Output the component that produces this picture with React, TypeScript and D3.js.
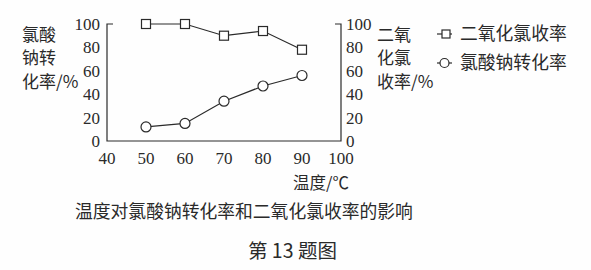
import React from "react";
import * as d3 from "d3";

const temps = [50, 60, 70, 80, 90];
const clo2Yield = [100, 100, 90, 94, 78];
const chlorateConv = [12, 15, 34, 47, 56];
const xTicks = [40, 50, 60, 70, 80, 90, 100];
const yTicks = [0, 20, 40, 60, 80, 100];
const leftTitle = ["氯酸", "钠转", "化率/%"];
const rightTitle = ["二氧", "化氯", "收率/%"];
const seriesNames = ["二氧化氯收率", "氯酸钠转化率"];
const xTitle = "温度/℃";
const caption = "温度对氯酸钠转化率和二氧化氯收率的影响";
const figLabel = "第 13 题图";

const W = 591, H = 270;
const ink = "#2a2a2a";
const numFont = "'Liberation Serif', 'Times New Roman', serif";
const cjkFont = "'Noto Sans CJK SC', 'Liberation Serif', serif";

export default function App() {
  const x = d3.scaleLinear().domain([40, 100]).range([107, 341]);
  const y = d3.scaleLinear().domain([0, 100]).range([141, 24]);
  const line = d3.line<[number, number]>().x(d => x(d[0])).y(d => y(d[1]));
  const sqData: [number, number][] = temps.map((t, i) => [t, clo2Yield[i]]);
  const ciData: [number, number][] = temps.map((t, i) => [t, chlorateConv[i]]);
  const s = 9;
  return (
    <svg width={W} height={H} style={{ position: "absolute", left: 0, top: 0, background: "#fff" }}>
      <rect x={0} y={0} width={W} height={H} fill="#fefefe" />
      <path d={`M${x(40) + 6},${y(100)} H${x(40)} V${y(0)} H${x(100)} V${y(100)} H${x(100) - 6}`} fill="none" stroke={ink} strokeWidth={1.2} />
      {yTicks.map(t => (
        <text key={"l" + t} x={100} y={y(t)} dy="0.35em" textAnchor="end" fontFamily={numFont} fontSize={17} fill={ink}>{t}</text>
      ))}
      {yTicks.map(t => (
        <text key={"r" + t} x={346} y={y(t)} dy="0.35em" textAnchor="start" fontFamily={numFont} fontSize={17} fill={ink}>{t}</text>
      ))}
      {xTicks.map(t => (
        <text key={"x" + t} x={x(t)} y={158} dy="0.35em" textAnchor="middle" fontFamily={numFont} fontSize={17} fill={ink}>{t}</text>
      ))}
      {leftTitle.map((l, i) => (
        <text key={"lt" + i} x={22} y={35 + i * 23.5} dy="0.35em" fontFamily={cjkFont} fontSize={17} fill={ink}>{l}</text>
      ))}
      {rightTitle.map((l, i) => (
        <text key={"rt" + i} x={377} y={35 + i * 23.5} dy="0.35em" fontFamily={cjkFont} fontSize={17} fill={ink}>{l}</text>
      ))}
      <path d={line(sqData) || ""} fill="none" stroke={ink} strokeWidth={1.2} />
      <path d={line(ciData) || ""} fill="none" stroke={ink} strokeWidth={1.2} />
      {sqData.map((d, i) => (
        <rect key={"s" + i} x={x(d[0]) - s / 2} y={y(d[1]) - s / 2} width={s} height={s} fill="#fff" stroke={ink} strokeWidth={1.2} />
      ))}
      {ciData.map((d, i) => (
        <circle key={"c" + i} cx={x(d[0])} cy={y(d[1])} r={5} fill="#fff" stroke={ink} strokeWidth={1.2} />
      ))}
      <line x1={437} x2={452} y1={34} y2={34} stroke={ink} strokeWidth={1.2} />
      <rect x={446 - 4} y={34 - 4} width={8} height={8} fill="#fff" stroke={ink} strokeWidth={1.2} />
      <text x={460} y={34} dy="0.35em" fontFamily={cjkFont} fontSize={17.8} fill={ink}>{seriesNames[0]}</text>
      <line x1={437} x2={452} y1={63} y2={63} stroke={ink} strokeWidth={1.2} />
      <circle cx={444.5} cy={63} r={4.5} fill="#fff" stroke={ink} strokeWidth={1.2} />
      <text x={460} y={63} dy="0.35em" fontFamily={cjkFont} fontSize={17.8} fill={ink}>{seriesNames[1]}</text>
      <text x={293} y={183} dy="0.35em" fontFamily={cjkFont} fontSize={16.5} fill={ink}>{xTitle}</text>
      <text x={75} y={212} dy="0.35em" fontFamily={cjkFont} fontSize={17.8} fill={ink}>{caption}</text>
      <text x={248} y={251} dy="0.35em" fontFamily={cjkFont} fontSize={19.5} fill={ink}>{figLabel}</text>
    </svg>
  );
}
